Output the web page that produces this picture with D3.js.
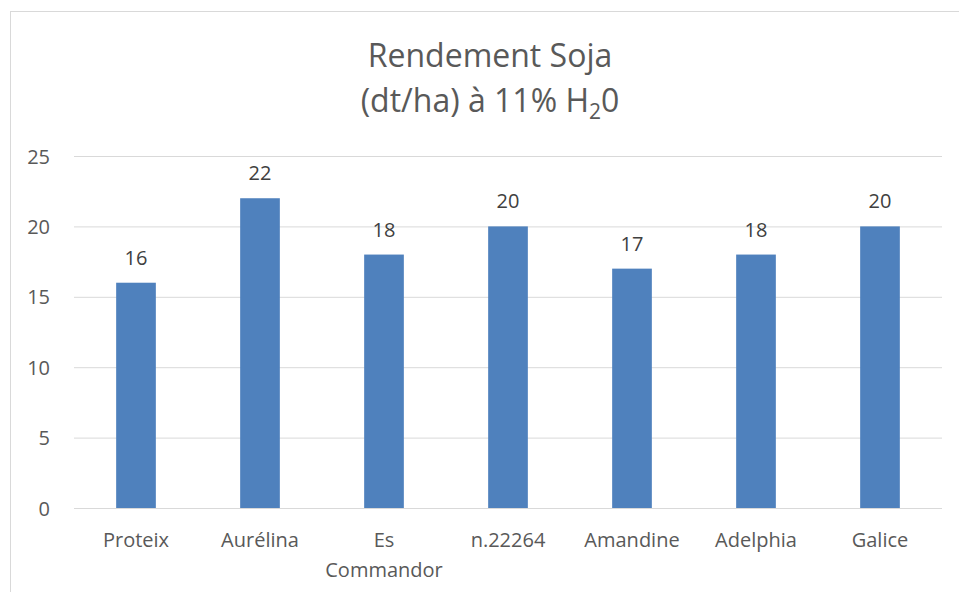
<!DOCTYPE html>
<html><head><meta charset="utf-8">
<script src="https://cdn.jsdelivr.net/npm/d3@7"></script>
<style>
html,body{margin:0;padding:0;background:#fff;}
svg{display:block;font-family:"Open Sans", Lato, sans-serif;}
</style></head>
<body>
<svg id="chart" width="959" height="592"></svg>
<script>
const categories = ["Proteix", "Aurélina", "Es Commandor", "n.22264", "Amandine", "Adelphia", "Galice"];
const values = [16, 22, 18, 20, 17, 18, 20];
const yTicks = [0, 5, 10, 15, 20, 25];

(function () {
const FONT = '"Open Sans", Lato, sans-serif';
const svg = d3.select("#chart");
const mLeft = 74, mRight = 942, mTop = 156, mBottom = 508;

svg.append("rect").attr("x", 10.5).attr("y", 11.5).attr("width", 960).attr("height", 600)
  .attr("fill", "#fff").attr("stroke", "#d9d9d9").attr("stroke-width", 1);

const x = d3.scaleBand().domain(categories).range([mLeft, mRight]).paddingInner(0.68).paddingOuter(0.34);
const y = d3.scaleLinear().domain([0, 25]).range([mBottom, mTop]);

// gridlines
const yAxis = d3.axisLeft(y).tickValues(yTicks).tickSize(-(mRight - mLeft)).tickPadding(24).tickFormat(d3.format("d"));
const gy = svg.append("g").attr("transform", `translate(${mLeft},0)`).call(yAxis);
gy.attr("font-family", FONT).attr("font-size", 20);
gy.select(".domain").remove();
gy.selectAll(".tick line").attr("stroke", "#d9d9d9").attr("stroke-width", 1);
gy.selectAll(".tick text").attr("fill", "#595959").attr("dy", null).attr("y", 7);

// bars
svg.append("g").selectAll("rect").data(values).join("rect")
  .attr("x", (d, i) => x(categories[i]))
  .attr("y", d => y(d))
  .attr("width", x.bandwidth())
  .attr("height", d => y(0) - y(d))
  .attr("fill", "#4f81bd");

// value labels
svg.append("g").attr("font-family", FONT).attr("font-size", 20)
  .selectAll("text").data(values).join("text")
  .attr("x", (d, i) => x(categories[i]) + x.bandwidth() / 2)
  .attr("y", d => y(d) - 18)
  .attr("text-anchor", "middle")
  .attr("fill", "#404040")
  .text(d => d);

// x axis labels
const xAxis = d3.axisBottom(x).tickSize(0).tickPadding(0);
const gx = svg.append("g").attr("transform", `translate(0,${mBottom})`).call(xAxis);
gx.attr("font-family", FONT).attr("font-size", 20);
gx.select(".domain").remove();
gx.selectAll(".tick text").remove();
gx.selectAll(".tick").each(function(d) {
  const words = d === "Es Commandor" ? ["Es", "Commandor"] : [d];
  const t = d3.select(this).append("text")
    .attr("fill", "#595959")
    .attr("text-anchor", "middle");
  words.forEach((w, i) => {
    t.append("tspan").attr("x", 0).attr("y", 39 + i * 30).text(w);
  });
});

// title
const title = svg.append("g").attr("fill", "#595959").attr("font-family", FONT).attr("font-size", 32).attr("text-anchor", "middle");
title.append("text").attr("x", 490).attr("y", 67).text("Rendement Soja");
const t2 = title.append("text").attr("x", 490).attr("y", 112);
t2.append("tspan").text("(dt/ha) à 11% H");
t2.append("tspan").attr("font-size", 21).attr("dy", 7).text("2");
t2.append("tspan").attr("dy", -7).text("0");
})();
</script>
</body></html>
